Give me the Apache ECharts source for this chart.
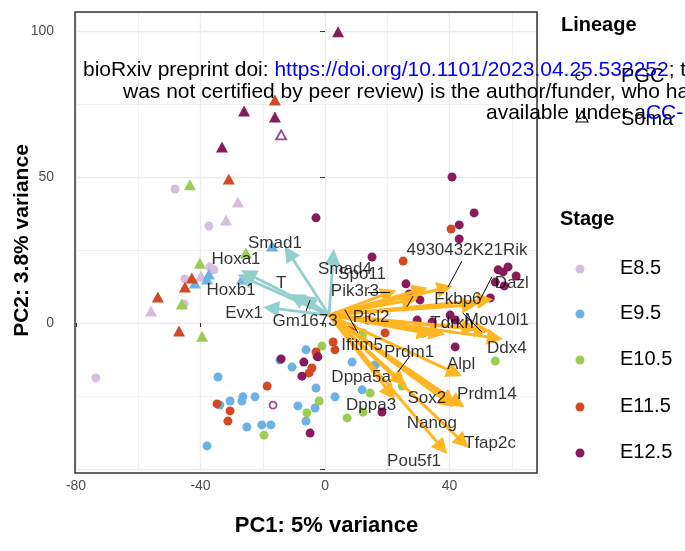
<!DOCTYPE html>
<html>
<head>
<meta charset="utf-8">
<script src="https://cdn.jsdelivr.net/npm/echarts@6/dist/echarts.min.js"></script>
<style>
  html, body { margin: 0; padding: 0; background: #fff; }
  #chart { width: 685px; height: 551px; }
</style>
</head>
<body>
<div id="chart"></div>
<script>
// ---- data (PC1, PC2) ----
const stages = ['E8.5', 'E9.5', 'E10.5', 'E11.5', 'E12.5'];

// Soma (triangles)
const somaE85 = [[-28.0, 41.4], [-31.8, 35.3], [-39.9, 16.1], [-55.9, 4.1]];
const somaE95 = [[-17.0, 26.4], [-37.3, 16.8], [-37.9, 15.1], [-26.7, 15.1], [-41.8, 13.7]];
const somaE105 = [[-43.4, 47.3], [-25.4, 24.0], [-40.2, 20.5], [-46.0, 6.5], [-39.5, -4.5]];
const somaE115 = [[-16.1, 76.4], [-30.9, 49.3], [-42.8, 15.4], [-45.0, 12.3], [-53.7, 8.9], [-46.9, -2.7]];
const somaE125 = [[4.2, 99.7], [-26.0, 72.6], [-16.1, 70.5], [-33.1, 60.3]];
const somaE125Open = [[-14.1, 64.4]];

// PGC (circles)
const pgcE85 = [[-48.2, 45.9], [-37.3, 33.2], [-37.0, 19.2], [-35.7, 18.2], [-45.0, 15.1], [-45.3, 6.5], [-73.6, -18.8]];
const pgcE95 = [[-14.5, -12.7], [-10.6, -15.1], [-34.4, -18.5], [-33.8, -28.1], [-30.5, -26.7], [-26.4, -25.3],
  [-26.7, -26.7], [-22.5, -25.3], [-25.1, -35.6], [-20.3, -34.9], [-17.4, -34.9], [-37.9, -42.1], [-6.1, -9.2],
  [-2.9, -22.3], [-8.7, -28.4], [-3.2, -29.1], [-6.1, -33.6], [3.2, -25.3], [8.7, -13.4], [11.9, -22.9], [16.1, -14.4]];
const pgcE105 = [[-19.6, -38.4], [-1.0, -7.9], [-1.9, -26.7], [-5.8, -30.8], [7.1, -32.5], [14.5, -24.0],
  [24.8, -21.6], [11.9, -4.5], [54.7, -13.0], [12.2, -30.5], [12.2, -3.4]];
const pgcE115 = [[-30.5, -30.1], [-31.2, -33.6], [-34.7, -27.7], [-18.6, -21.6], [-2.9, -9.9], [-2.6, -11.3],
  [-4.2, -15.4], [-5.1, -17.1], [2.6, -6.5], [3.2, -9.2], [25.1, 21.2], [40.5, 32.2], [13.8, 1.0], [8.7, -1.7], [19.3, -3.4]];
const pgcE125 = [[40.8, 50.0], [-2.9, 36.0], [47.9, 37.7], [43.1, 33.6], [43.1, 28.8], [15.1, 22.6], [26.0, 13.4],
  [55.6, 18.2], [58.8, 19.2], [57.2, 17.5], [61.4, 16.1], [54.7, 14.0], [57.6, 12.7], [53.1, 8.6], [27.0, 9.9],
  [30.5, 7.9], [41.8, 1.0], [29.6, 1.0], [41.8, -8.2], [-14.1, -12.3], [-6.8, -13.4], [-2.3, -11.6], [-7.4, -18.2],
  [-4.8, -37.7], [18.3, -30.5], [40.2, 2.7], [34.4, 0.3], [31.5, -3.4]];
const pgcE125Open = [[-16.7, -28.1]];

// loading arrows
const arrowOrigin = [1.3, 2.7];
const somaGenes = ['Smad1', 'Smad4', 'Hoxa1', 'Hoxb1', 'Evx1', 'T', 'Gm1673'];
const somaGeneTips = [[-11.6, 24.0], [2.6, 22.6], [-24.7, 16.8], [-25.7, 15.4], [-17.3, 5.1], [-9.3, 8.6], [-5.5, 7.9]];
const somaLabelPos = [[-16.1, 27.4], [6.4, 18.5], [-28.6, 21.9], [-30.2, 11.3], [-26.0, 3.4], [-14.1, 13.7], [-6.4, 0.7]];

const pgcGenes = ['Pik3r3', 'Spo11', 'Plcl2', '4930432K21Rik', 'Fkbp6', 'Dazl', 'Tdrkh', 'Mov10l1', 'Ddx4', 'Ifitm5',
  'Prdm1', 'Alpl', 'Dppa5a', 'Dppa3', 'Sox2', 'Prdm14', 'Nanog', 'Tfap2c', 'Pou5f1'];
const pgcGeneTips = [[20.5, 10.3], [30.5, 11.3], [27.3, 7.9], [38.5, 12.0], [46.5, 6.2], [51.4, 7.9], [46.5, -1.7],
  [50.4, -2.4], [54.6, -5.1], [36.0, -3.4], [32.1, -3.4], [41.7, -17.1], [24.1, -19.5], [20.9, -24.0], [39.2, -27.1],
  [42.7, -27.4], [40.1, -26.4], [44.3, -40.8], [37.6, -42.8]];
const pgcLabelPos = [[9.6, 11.0], [11.9, 16.8], [14.8, 2.1], [45.6, 25.0], [42.7, 8.2], [60.0, 13.7], [40.8, 0],
  [55.2, 1.0], [58.4, -8.6], [11.9, -7.5], [27.0, -9.9], [43.7, -14.0], [11.6, -18.5], [14.8, -28.1], [32.7, -25.7],
  [52.0, -24.3], [34.3, -34.2], [53.0, -41.1], [28.6, -47.3]];

// label leader segments
const leaderLines = [
  [[44.0, 21.2], [39.5, 12.3]],
  [[53.6, 15.8], [49.8, 7.9]],
  [[44.3, 3.4], [50.4, -3.1]],
  [[13.8, 10.6], [20.9, 10.6]],
  [[26.3, 5.5], [28.3, 9.2]],
  [[6.4, 4.5], [10.6, -3.4]],
  [[27.3, -11.3], [23.4, -16.8]],
  [[-4.8, 7.9], [-6.1, 4.1]]
];

// axis ticks
const xTicks = [-80, -40, 0, 40];
const yTicks = [-50, 0, 50, 100];

// ---- styling ----
const colors = ['#D7BDE0', '#6DB2E3', '#9CCC52', '#D24A25', '#871B5C'];
const FONT = 'Liberation Sans, Arial, Helvetica, sans-serif';
const triSize = [12, 11];
const dotSize = 9;

const chart = echarts.init(document.getElementById('chart'));

function arrowData(tips) {
  return tips.map(t => ({ coords: [arrowOrigin, t] }));
}
function labelData(names, pos) {
  return names.map((n, i) => ({ name: n, value: pos[i] }));
}

const somaSets = [somaE85, somaE95, somaE105, somaE115, somaE125];
const pgcSets = [pgcE85, pgcE95, pgcE105, pgcE115, pgcE125];

const series = [];
pgcSets.forEach((d, i) => series.push({
  type: 'scatter', name: stages[i] + ' PGC', data: d, symbol: 'circle', symbolSize: dotSize,
  itemStyle: { color: colors[i], opacity: 1 }, z: 2, silent: true
}));
somaSets.forEach((d, i) => series.push({
  type: 'scatter', name: stages[i] + ' Soma', data: d, symbol: 'triangle', symbolSize: triSize,
  itemStyle: { color: colors[i], opacity: 1 }, z: 2, silent: true
}));
series.push({
  type: 'scatter', data: pgcE125Open, symbol: 'circle', symbolSize: 7,
  itemStyle: { color: '#fff', borderColor: colors[4], borderWidth: 1.8 }, z: 2, silent: true
});
series.push({
  type: 'scatter', data: somaE125Open, symbol: 'triangle', symbolSize: [10, 9],
  itemStyle: { color: '#fff', borderColor: colors[4], borderWidth: 1.8 }, z: 2, silent: true
});
series.push({
  type: 'lines', coordinateSystem: 'cartesian2d', data: arrowData(somaGeneTips),
  symbol: ['none', 'triangle'], symbolSize: [13, 16],
  lineStyle: { color: '#93CFCE', width: 2.8, opacity: 1 }, z: 3, silent: true
});
series.push({
  type: 'lines', coordinateSystem: 'cartesian2d', data: arrowData(pgcGeneTips),
  symbol: ['none', 'triangle'], symbolSize: [13, 16],
  lineStyle: { color: '#FFB622', width: 3, opacity: 1 }, z: 4, silent: true
});
series.push({
  type: 'lines', coordinateSystem: 'cartesian2d', data: leaderLines.map(c => ({ coords: c })),
  symbol: 'none', lineStyle: { color: '#000', width: 1, opacity: 1 }, z: 5, silent: true
});
series.push({
  type: 'scatter', data: labelData(somaGenes, somaLabelPos).concat(labelData(pgcGenes, pgcLabelPos)),
  symbolSize: 0, z: 6, silent: true,
  label: {
    show: true, position: 'inside', formatter: '{b}', color: '#000',
    textBorderWidth: 0, fontSize: 17, fontFamily: FONT
  }
});

const axisLabelStyle = { color: '#4D4D4D', fontSize: 14, fontFamily: FONT };
const gridLine = { show: true, lineStyle: { color: '#EBEBEB', width: 1.3 } };
const minorGridLine = { show: true, lineStyle: { color: '#EBEBEB', width: 0.7 } };

// legend drawn as graphic
const legendItems = [];
legendItems.push({ type: 'text', left: 561, top: 15, style: { text: 'Lineage', font: 'bold 20px ' + FONT, fill: '#000' } });
legendItems.push({ type: 'circle', shape: { cx: 580, cy: 76, r: 4 }, style: { fill: 'none', stroke: '#000', lineWidth: 1.2 } });
legendItems.push({ type: 'text', left: 621, top: 66, style: { text: 'PGC', font: '20px ' + FONT, fill: '#000' } });
legendItems.push({ type: 'polygon', shape: { points: [[582, 111], [588, 122], [576, 122]] }, style: { fill: 'none', stroke: '#000', lineWidth: 1.2 } });
legendItems.push({ type: 'text', left: 621, top: 109, style: { text: 'Soma', font: '20px ' + FONT, fill: '#000' } });
legendItems.push({ type: 'text', left: 560, top: 209, style: { text: 'Stage', font: 'bold 20px ' + FONT, fill: '#000' } });
const legendY = [269, 314, 360, 407, 453];
stages.forEach((s, i) => {
  legendItems.push({ type: 'circle', shape: { cx: 580, cy: legendY[i], r: 4.5 }, style: { fill: colors[i] } });
  legendItems.push({ type: 'text', left: 620, top: legendY[i] - 11, style: { text: s, font: '20px ' + FONT, fill: '#000' } });
});

// panel border
legendItems.push({
  type: 'rect', shape: { x: 75, y: 12, width: 462, height: 461 },
  style: { fill: 'none', stroke: '#333', lineWidth: 1.5 }, z: 50
});

// preprint watermark overlay
const wmRich = { l: { fill: '#0000FF', fontSize: 21, fontFamily: FONT } };
[
  [83, 70, 'bioRxiv preprint doi: {l|https://doi.org/10.1101/2023.04.25.532252}; this version posted April 27, 2023. The copyright holder for this preprint (which'],
  [123, 92, 'was not certified by peer review) is the author/funder, who has granted bioRxiv a license to display the preprint in perpetuity. It is made'],
  [486, 113, 'available under a{l|CC-BY-NC-ND 4.0 International license}.']
].forEach(([x, y, t]) => legendItems.push({
  type: 'text', x: x, y: y, z: 100,
  style: { text: t, fontSize: 21, fontFamily: FONT, fill: '#000', verticalAlign: 'middle', rich: wmRich }
}));

chart.setOption({
  backgroundColor: '#fff',
  animation: false,
  grid: { left: 76, right: 148, top: 12, bottom: 82, containLabel: false, outerBoundsMode: 'none' },
  xAxis: [{
    type: 'value', min: -80, max: 68.1, interval: 40, offset: 4,
    axisLine: { show: false },
    axisTick: { show: true, length: 4, lineStyle: { color: '#333' } },
    axisLabel: Object.assign({ margin: 6, showMaxLabel: false, formatter: v => xTicks.includes(v) ? String(v) : '' }, axisLabelStyle),
    splitLine: { show: false },
    name: 'PC1: 5% variance', nameLocation: 'middle', nameGap: 42, nameMoveOverlap: false,
    nameTextStyle: { fontSize: 22, fontWeight: 'bold', color: '#000', fontFamily: FONT, padding: [0, 0, 0, 40] }
  }, {
    type: 'value', min: -80, max: 68.1, interval: 20, show: true,
    axisLine: { show: false }, axisTick: { show: false }, axisLabel: { show: false },
    splitLine: minorGridLine, z: 0
  }, {
    type: 'value', min: -80, max: 68.1, interval: 40, show: true,
    axisLine: { show: false }, axisTick: { show: false }, axisLabel: { show: false },
    splitLine: gridLine, z: 0
  }],
  yAxis: [{
    type: 'value', min: -50, max: 106.5, interval: 50,
    axisLine: { show: false },
    axisTick: { show: true, length: 5, lineStyle: { color: '#333' } },
    axisLabel: Object.assign({ margin: 22, showMaxLabel: false, formatter: v => (yTicks.includes(v) && v !== -50) ? String(v) : '' }, axisLabelStyle),
    splitLine: { show: false },
    name: 'PC2: 3.8% variance', nameLocation: 'middle', nameGap: 43, nameRotate: 90, nameMoveOverlap: false,
    nameTextStyle: { fontSize: 21, fontWeight: 'bold', color: '#000', fontFamily: FONT }
  }, {
    type: 'value', min: -50, max: 106.5, interval: 25, show: true,
    axisLine: { show: false }, axisTick: { show: false }, axisLabel: { show: false },
    splitLine: minorGridLine, z: 0
  }, {
    type: 'value', min: -50, max: 106.5, interval: 50, show: true,
    axisLine: { show: false }, axisTick: { show: false }, axisLabel: { show: false },
    splitLine: gridLine, z: 0
  }],
  graphic: legendItems,
  series: series
});
</script>
</body>
</html>
